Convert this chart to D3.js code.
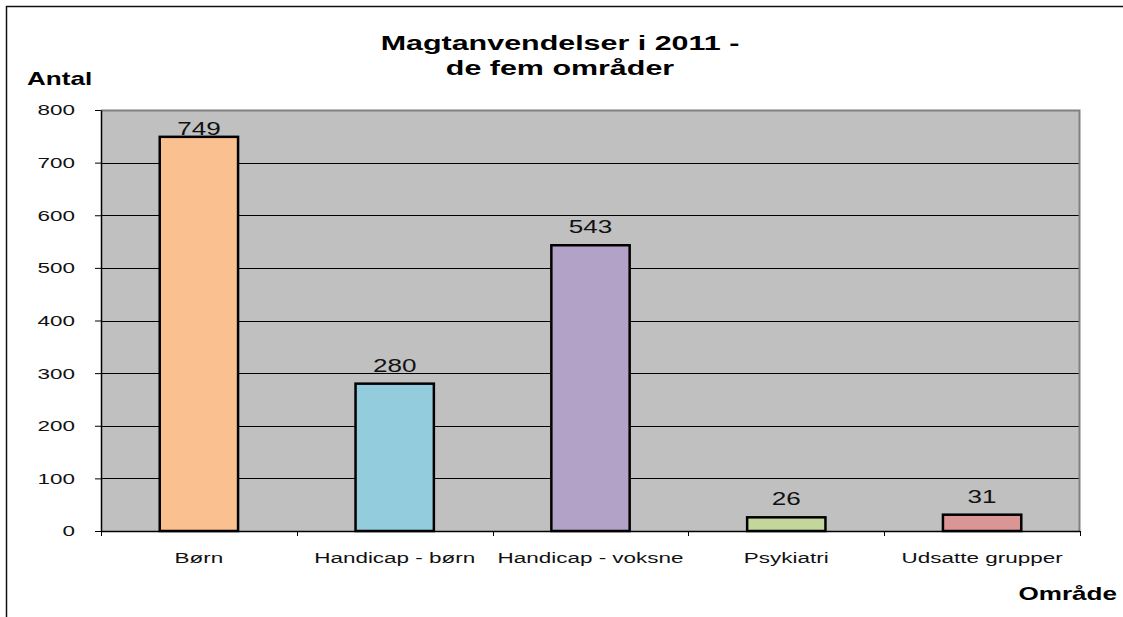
<!DOCTYPE html>
<html>
<head>
<meta charset="utf-8">
<script src="https://cdn.jsdelivr.net/npm/d3@7"></script>
<style>
  body { margin: 0; background: #fff; }
  text { font-family: "Liberation Sans", Arial, sans-serif; }
</style>
</head>
<body>
<div id="chart"></div>
<script>
// data
const categories = ["Børn", "Handicap - børn", "Handicap - voksne", "Psykiatri", "Udsatte grupper"];
const values = [749, 280, 543, 26, 31];
const barColors = ["#FAC090", "#93CDDD", "#B3A2C7", "#C3D69B", "#D99694"];
const yTicks = [0, 100, 200, 300, 400, 500, 600, 700, 800];

const width = 1123, height = 617;
const margin = { top: 110, right: 43, bottom: 86, left: 101 };
const plotW = width - margin.left - margin.right,
  plotH = height - margin.top - margin.bottom;

// the original picture is stretched sideways, so text is widened too
const stretch = 1.45;
function place(sel, x, y) {
  return sel.attr("x", 0).attr("y", 0)
    .attr("transform", "translate(" + x + "," + y + ") scale(" + stretch + ",1)");
}

const svg = d3.select("#chart")
  .append("svg")
  .attr("width", width)
  .attr("height", height);

// outer chart frame (only top and left visible)
svg.append("path")
  .attr("d", "M6.5,617 L6.5,6.5 L1123,6.5")
  .attr("fill", "none")
  .attr("stroke", "#111")
  .attr("stroke-width", 1.5);

const g = svg.append("g")
  .attr("transform", "translate(" + margin.left + "," + margin.top + ")");

const x = d3.scaleBand()
  .domain(categories)
  .range([0, plotW])
  .paddingInner(0.6)
  .paddingOuter(0.3);

const y = d3.scaleLinear()
  .domain([0, 800])
  .range([plotH, 0]);

// plot background
g.append("rect")
  .attr("width", plotW)
  .attr("height", plotH)
  .attr("fill", "#C0C0C0");

// gridlines
g.append("g")
  .selectAll("line")
  .data(yTicks.filter(d => d > 0 && d < 800))
  .enter()
  .append("line")
  .attr("x1", 0)
  .attr("x2", plotW)
  .attr("y1", d => Math.round(y(d)) + 0.5)
  .attr("y2", d => Math.round(y(d)) + 0.5)
  .attr("stroke", "#000")
  .attr("stroke-width", 1);

// plot area border top + right
g.append("path")
  .attr("d", "M0,0.5 L" + (plotW - 0.5) + ",0.5 L" + (plotW - 0.5) + "," + plotH)
  .attr("fill", "none")
  .attr("stroke", "#808080")
  .attr("stroke-width", 2);

// bars
g.selectAll(".bar")
  .data(values)
  .enter()
  .append("rect")
  .attr("class", "bar")
  .attr("x", (d, i) => x(categories[i]))
  .attr("y", d => y(d))
  .attr("width", x.bandwidth())
  .attr("height", d => plotH - y(d))
  .attr("fill", (d, i) => barColors[i])
  .attr("stroke", "#000")
  .attr("stroke-width", 2.5);

// value labels (pushed down to stay inside the plot area near the top)
g.selectAll(".val")
  .data(values)
  .enter()
  .append("text")
  .attr("class", "val")
  .each(function (d, i) {
    place(d3.select(this), x(categories[i]) + x.bandwidth() / 2, Math.max(y(d) - 12, 25));
  })
  .attr("text-anchor", "middle")
  .style("font-size", "18px")
  .style("fill", "#111")
  .text(d => d);

// y axis
const yAxis = g.append("g")
  .call(d3.axisLeft(y).tickValues(yTicks).tickSize(6).tickPadding(20).tickSizeOuter(0));
yAxis.select(".domain").attr("stroke", "#000").attr("stroke-width", 1.5);
yAxis.selectAll(".tick line").attr("stroke", "#000");
yAxis.selectAll(".tick text")
  .attr("x", 0)
  .attr("transform", "translate(-26,0) scale(" + stretch + ",1)")
  .style("font-size", "15.5px")
  .style("font-family", "Liberation Sans, Arial, sans-serif")
  .attr("fill", "#111");

// x axis with ticks at category boundaries
const xAxisG = g.append("g")
  .attr("transform", "translate(0," + plotH + ")");
xAxisG.append("line")
  .attr("x1", 0).attr("x2", plotW)
  .attr("y1", 0.5).attr("y2", 0.5)
  .attr("stroke", "#000")
  .attr("stroke-width", 1.5);
const step = plotW / categories.length;
xAxisG.selectAll(".xt")
  .data(d3.range(categories.length + 1))
  .enter()
  .append("line")
  .attr("x1", i => Math.round(i * step) + 0.5)
  .attr("x2", i => Math.round(i * step) + 0.5)
  .attr("y1", 0)
  .attr("y2", 5)
  .attr("stroke", "#000");
xAxisG.selectAll(".xl")
  .data(categories)
  .enter()
  .append("text")
  .each(function (d) {
    place(d3.select(this), x(d) + x.bandwidth() / 2, 32);
  })
  .attr("text-anchor", "middle")
  .style("font-size", "15.5px")
  .style("fill", "#111")
  .text(d => d);

// title
place(svg.append("text"), 560, 50)
  .attr("text-anchor", "middle")
  .style("font-size", "21px")
  .style("font-weight", "bold")
  .style("fill", "#000")
  .text("Magtanvendelser i 2011 -");
place(svg.append("text"), 560, 75)
  .attr("text-anchor", "middle")
  .style("font-size", "21px")
  .style("font-weight", "bold")
  .style("fill", "#000")
  .text("de fem områder");

// axis titles
place(svg.append("text"), 27, 85)
  .style("font-size", "18px")
  .style("font-weight", "bold")
  .text("Antal");

place(svg.append("text"), 1117, 600)
  .attr("text-anchor", "end")
  .style("font-size", "18px")
  .style("font-weight", "bold")
  .text("Område");
</script>
</body>
</html>
